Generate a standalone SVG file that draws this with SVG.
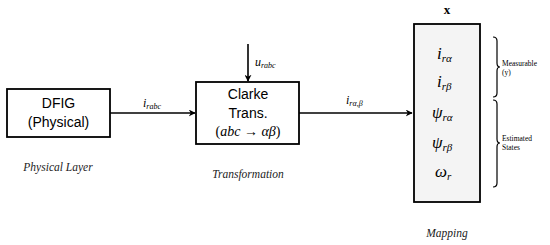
<svg xmlns="http://www.w3.org/2000/svg" width="550" height="245" viewBox="0 0 550 245">
<defs>
<marker id="arr" viewBox="0 0 10 10" refX="9" refY="5" markerWidth="7" markerHeight="7" markerUnits="userSpaceOnUse" orient="auto">
<path d="M0,0 L10,5 L0,10 L3,5 Z" fill="#000"/>
</marker>
</defs>
<style>
.box{fill:#fff;stroke:#000;stroke-width:1.8}
.map{fill:#f4f4f4;stroke:#000;stroke-width:1.8}
.sans{font-family:"Liberation Sans",Arial,sans-serif;font-size:14px;fill:#000;text-anchor:middle}
.cap{font-family:"Liberation Serif","Times New Roman",serif;font-style:italic;font-size:11.5px;fill:#222;text-anchor:middle}
.math{font-family:"Liberation Serif","Times New Roman",serif;font-style:italic;fill:#000}
.small{font-family:"Liberation Serif","Times New Roman",serif;font-size:7.5px;fill:#000}
.conn{stroke:#000;stroke-width:1.6;fill:none}
.brace{stroke:#000;stroke-width:1.2;fill:none}
</style>
<rect width="550" height="245" fill="#fff"/>
<g id="connectors">
<line class="conn" x1="110" y1="113" x2="195" y2="113" marker-end="url(#arr)"/>
<line class="conn" x1="248" y1="44" x2="248" y2="81" marker-end="url(#arr)"/>
<line class="conn" x1="299" y1="113" x2="412" y2="113" marker-end="url(#arr)"/>
<text class="math" x="143" y="107" font-size="12">i<tspan font-size="8" dy="2">rabc</tspan></text>
<text class="math" x="255" y="66" font-size="12">u<tspan font-size="8" dy="2">rabc</tspan></text>
<text class="math" x="346" y="104" font-size="12">i<tspan font-size="8" dy="2">rα,β</tspan></text>
</g>
<g id="dfig">
<rect class="box" x="7" y="89" width="103" height="48"/>
<text class="sans" x="58.5" y="108">DFIG</text>
<text class="sans" x="58.5" y="127">(Physical)</text>
<text class="cap" x="58" y="171">Physical Layer</text>
</g>
<g id="clarke">
<rect class="box" x="196" y="82" width="103" height="62"/>
<text class="sans" x="248" y="99">Clarke</text>
<text class="sans" x="248" y="118">Trans.</text>
<text class="math" x="248" y="136" font-size="14" text-anchor="middle"><tspan font-style="normal">(</tspan>abc → αβ<tspan font-style="normal">)</tspan></text>
<text class="cap" x="248" y="178">Transformation</text>
</g>
<g id="mapping">
<text x="447" y="14" font-family="Liberation Serif, serif" font-weight="bold" font-size="13" text-anchor="middle">x</text>
<rect class="map" x="414" y="24" width="66" height="178"/>
<text class="math" x="437" y="59" font-size="17">i<tspan font-size="11" dy="3">rα</tspan></text>
<text class="math" x="437" y="87" font-size="17">i<tspan font-size="11" dy="3">rβ</tspan></text>
<text class="math" x="432" y="118" font-size="17">ψ<tspan font-size="11" dy="3">rα</tspan></text>
<text class="math" x="432" y="148" font-size="17">ψ<tspan font-size="11" dy="3">rβ</tspan></text>
<text class="math" x="435" y="177" font-size="17">ω<tspan font-size="11" dy="3">r</tspan></text>
<text class="cap" x="447" y="237">Mapping</text>
</g>
<g id="measurable">
<path class="brace" d="M493,37 Q497,37 497,41 L497,63 Q497,67 500,67 Q497,67 497,71 L497,93 Q497,97 493,97"/>
<text class="small" x="502" y="66">Measurable</text>
<text class="small" x="502" y="75">(y)</text>
</g>
<g id="estimated">
<path class="brace" d="M493,100 Q497,100 497,104 L497,139 Q497,143 500,143 Q497,143 497,147 L497,183 Q497,187 493,187"/>
<text class="small" x="502" y="141">Estimated</text>
<text class="small" x="502" y="150">States</text>
</g>
</svg>
